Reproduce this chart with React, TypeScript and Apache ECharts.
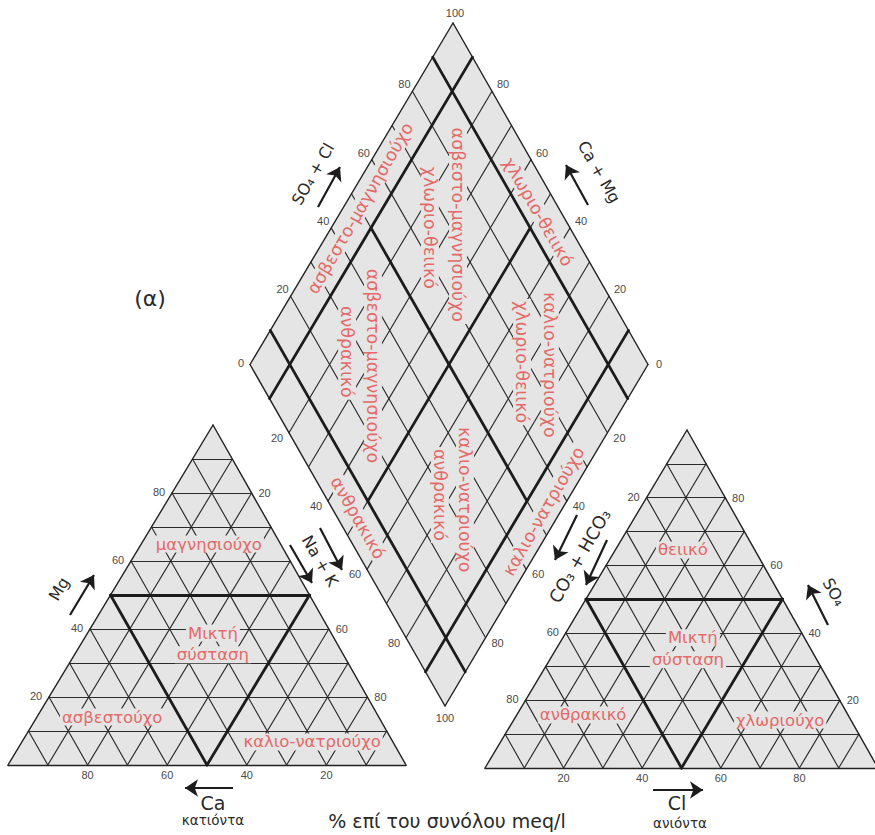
import React, { useEffect, useRef } from "react";
import * as echarts from "echarts";

// ---------------- data ----------------
const GRID_STEPS = [10, 20, 30, 40, 50, 60, 70, 80, 90];
const TRIANGLE_THICK = [50];
const DIAMOND_FULL_THICK = [10, 90];
const DIAMOND_INNER_THICK = [50];
const EDGE_TICKS = [20, 40, 60, 80];
const CATION_RIGHT_TICKS = [20, 60, 80];
const ANION_LEFT_TICKS = [20, 60, 80];

// cation triangle: a = Ca, b = Na+K, c = Mg
const cationLabels = [
  { text: "μαγνησιούχο", a: 18, b: 17, c: 65 },
  { text: "Μικτή", a: 29.7, b: 31.5, c: 38.8 },
  { text: "σύσταση", a: 32.8, b: 34.8, c: 32.4 },
  { text: "ασβεστούχο", a: 67, b: 18.9, c: 14.1 },
  { text: "καλιο-νατριούχο", a: 20.3, b: 72.9, c: 6.8 },
];
// anion triangle: a = CO3+HCO3, b = Cl, c = SO4
const anionLabels = [
  { text: "θειικό", a: 18.3, b: 17.2, c: 64.5 },
  { text: "Μικτή", a: 28.4, b: 33.1, c: 38.5 },
  { text: "σύσταση", a: 32.8, b: 35.2, c: 32 },
  { text: "ανθρακικό", a: 67.4, b: 16.9, c: 15.7 },
  { text: "χλωριούχο", a: 18, b: 67.8, c: 14.2 },
];
// diamond: s = SO4+Cl, c = Ca+Mg
const diamondColumnLabels = [
  { text: "ασβεστο-μαγνησιούχο", s: 72.3, c: 68.6 },
  { text: "χλωριο-θειικό", s: 64.8, c: 75.2 },
  { text: "ασβεστο-μαγνησιούχο", s: 30.7, c: 68.9 },
  { text: "ανθρακικό", s: 26.2, c: 77.5 },
  { text: "καλιο-νατριούχο", s: 75.3, c: 24.6 },
  { text: "χλωριο-θειικό", s: 68.7, c: 32.0 },
  { text: "καλιο-νατριούχο", s: 34.6, c: 25.8 },
  { text: "ανθρακικό", s: 29.0, c: 32.8 },
];
const diamondRisingLabels = [
  { text: "ασβεστο-μαγνησιούχο", s: 50.1, c: 95.7 },
  { text: "καλιο-νατριούχο", s: 52.7, c: 4.3 },
];
const diamondFallingLabels = [
  { text: "χλωριο-θειικό", s: 94.3, c: 50.4 },
  { text: "ανθρακικό", s: 5.1, c: 50.0 },
];

// ---------------- layout ----------------
const W = 875;
const H = 835;
type P = [number, number];
const CAT = { A: [8, 765] as P, B: [406, 765] as P, C: [213, 425] as P };
const AN = { A: [485, 768] as P, B: [878, 768] as P, C: [687, 430] as P };
const DIA = { B: [445, 706] as P, L: [250, 364.5] as P, R: [648, 364.5] as P };

function tern(T: { A: P; B: P; C: P }, a: number, b: number, c: number): P {
  const s = a + b + c;
  return [
    (T.A[0] * a + T.B[0] * b + T.C[0] * c) / s,
    (T.A[1] * a + T.B[1] * b + T.C[1] * c) / s,
  ];
}
function dia(s: number, c: number): P {
  return [
    DIA.B[0] + (s / 100) * (DIA.R[0] - DIA.B[0]) + (c / 100) * (DIA.L[0] - DIA.B[0]),
    DIA.B[1] + (s / 100) * (DIA.R[1] - DIA.B[1]) + (c / 100) * (DIA.L[1] - DIA.B[1]),
  ];
}
const add = (p: P, dx: number, dy: number): P => [p[0] + dx, p[1] + dy];

function triSegments(T: { A: P; B: P; C: P }, steps: number[]): P[][] {
  const segs: P[][] = [];
  for (const k of steps) {
    segs.push([tern(T, 100 - k, 0, k), tern(T, 0, 100 - k, k)]);
    segs.push([tern(T, k, 100 - k, 0), tern(T, k, 0, 100 - k)]);
    segs.push([tern(T, 100 - k, k, 0), tern(T, 0, k, 100 - k)]);
  }
  return segs;
}
function triEdges(T: { A: P; B: P; C: P }): P[][] {
  return [[T.A, T.B], [T.B, T.C], [T.C, T.A]];
}

const thinSegs: P[][] = [
  ...triSegments(CAT, GRID_STEPS),
  ...triSegments(AN, GRID_STEPS),
];
for (const k of GRID_STEPS) {
  thinSegs.push([dia(k, 0), dia(k, 100)]);
  thinSegs.push([dia(0, k), dia(100, k)]);
}
const edgeSegs: P[][] = [
  ...triEdges(CAT),
  ...triEdges(AN),
  [dia(0, 0), dia(100, 0)],
  [dia(100, 0), dia(100, 100)],
  [dia(100, 100), dia(0, 100)],
  [dia(0, 100), dia(0, 0)],
];
const thickSegs: P[][] = [
  ...triSegments(CAT, TRIANGLE_THICK),
  ...triSegments(AN, TRIANGLE_THICK),
];
for (const k of DIAMOND_FULL_THICK) {
  thickSegs.push([dia(k, 0), dia(k, 100)]);
  thickSegs.push([dia(0, k), dia(100, k)]);
}
for (const k of DIAMOND_INNER_THICK) {
  thickSegs.push([dia(k, DIAMOND_FULL_THICK[0]), dia(k, DIAMOND_FULL_THICK[1])]);
  thickSegs.push([dia(DIAMOND_FULL_THICK[0], k), dia(DIAMOND_FULL_THICK[1], k)]);
}

const polygons: P[][] = [
  [CAT.A, CAT.B, CAT.C],
  [AN.A, AN.B, AN.C],
  [dia(0, 0), dia(100, 0), dia(100, 100), dia(0, 100)],
];

const arrows: P[][] = [
  [[318, 207], [340, 167]],
  [[588, 205], [566, 165]],
  [[70, 615], [94, 575]],
  [[290, 545], [312, 583]],
  [[320, 528], [342, 570]],
  [[577, 515], [555, 560]],
  [[607, 540], [586, 585]],
  [[828, 625], [808, 585]],
  [[233, 788], [185, 788]],
  [[653, 790], [703, 790]],
];

// ---------------- texts ----------------
type T = { p: P; text: string; rot: number; size: number; color: string; family: string; bg?: string };
const RED = "#e46a68";
const FILL = "#e5e5e5";
const TICK = "#4a4a4a";
const DARK = "#2a2a2a";
const SANS = "DejaVu Sans, sans-serif";
const NUM = "Liberation Sans, Arial, sans-serif";
const texts: T[] = [];
const tick = (p: P, v: number | string) =>
  texts.push({ p, text: String(v), rot: 0, size: 11, color: TICK, family: NUM });

for (const v of EDGE_TICKS) {
  tick(add(dia(v, 100), -8, -7), v);
  tick(add(dia(100, v), 11, -7), v);
  tick(add(dia(0, 100 - v), -12, 5), v);
  tick(add(dia(100 - v, 0), 12, 5), v);
  tick(add(tern(CAT, 100 - v, 0, v), -13, -1), v);
  tick(add(tern(CAT, v, 100 - v, 0), 0, 10), v);
  tick(add(tern(AN, 0, 100 - v, v), 13, 0), v);
  tick(add(tern(AN, 100 - v, v, 0), 0, 10), v);
}
for (const v of CATION_RIGHT_TICKS) tick(add(tern(CAT, 0, v, 100 - v), 13, 0), v);
for (const v of ANION_LEFT_TICKS) tick(add(tern(AN, v, 0, 100 - v), -13, -1), v);
tick(add(dia(0, 100), -9, -2), 0);
tick(add(dia(100, 0), 11, -1), 0);
tick(add(dia(100, 100), 2, -10), 100);
tick(add(dia(0, 0), 0, 12), 100);

const red = (p: P, text: string, rot: number, size: number) =>
  texts.push({ p, text, rot, size, color: RED, family: SANS, bg: FILL });
for (const l of cationLabels) red(tern(CAT, l.a, l.b, l.c), l.text, 0, 16.5);
for (const l of anionLabels) red(tern(AN, l.a, l.b, l.c), l.text, 0, 16.5);
for (const l of diamondColumnLabels) red(dia(l.s, l.c), l.text, -Math.PI / 2, 17.5);
for (const l of diamondRisingLabels) red(dia(l.s, l.c), l.text, Math.PI / 3, 17.5);
for (const l of diamondFallingLabels) red(dia(l.s, l.c), l.text, -Math.PI / 3, 17.5);

const dark = (p: P, text: string, rot: number, size: number) =>
  texts.push({ p, text, rot, size, color: DARK, family: SANS });
dark([313, 174], "SO₄ + Cl", Math.PI / 3, 16);
dark([599, 172], "Ca + Mg", -Math.PI / 3, 16);
dark([59, 589], "Mg", Math.PI / 3, 16);
dark([320, 561], "Na + K", -Math.PI / 3, 16);
dark([580, 556], "CO₃ + HCO₃", Math.PI / 3, 17.5);
dark([834, 592], "SO₄", -Math.PI / 3, 16);
dark([213, 803], "Ca", 0, 19);
dark([213, 820], "κατιόντα", 0, 13.5);
dark([677, 803], "Cl", 0, 19);
dark([680, 823], "ανιόντα", 0, 13.5);
dark([447, 821], "% επί του συνόλου meq/l", 0, 19);
dark([150, 298], "(α)", 0, 22);

const lineSeries = (segs: P[][], width: number, color: string, z: number) => ({
  type: "lines",
  coordinateSystem: "cartesian2d",
  polyline: false,
  silent: true,
  z,
  symbol: ["none", "none"],
  lineStyle: { color, width, opacity: 1, cap: "round" },
  data: segs.map((s) => ({ coords: s })),
});

export default function App() {
  const ref = useRef<HTMLDivElement>(null);
  useEffect(() => {
    if (!ref.current) return;
    const chart = echarts.init(ref.current, null, { renderer: "svg" });
    chart.setOption({
      animation: false,
      backgroundColor: "#ffffff",
      grid: { left: 0, right: 0, top: 0, bottom: 0 },
      xAxis: { type: "value", min: 0, max: W, show: false },
      yAxis: { type: "value", min: 0, max: H, inverse: true, show: false },
      series: [
        {
          type: "custom",
          z: 1,
          silent: true,
          data: polygons.map((_, i) => [i]),
          renderItem: (_p: any, api: any) => {
            const poly = polygons[api.value(0)];
            return {
              type: "polygon",
              shape: { points: poly.map((pt) => api.coord(pt)) },
              style: { fill: FILL },
            };
          },
        },
        lineSeries(thinSegs, 1.15, "#2b2b2b", 2),
        lineSeries(edgeSegs, 1.4, "#222222", 3),
        lineSeries(thickSegs, 2.8, "#1c1c1c", 4),
        {
          type: "lines",
          coordinateSystem: "cartesian2d",
          silent: true,
          z: 6,
          symbol: ["none", "arrow"],
          symbolSize: 13,
          lineStyle: { color: "#1c1c1c", width: 2.2, opacity: 1 },
          itemStyle: { color: "#1c1c1c" },
          data: arrows.map((s) => ({ coords: s })),
        },
        {
          type: "custom",
          z: 8,
          silent: true,
          data: texts.map((t, i) => [t.p[0], t.p[1], i]),
          renderItem: (_p: any, api: any) => {
            const t = texts[api.value(2)];
            const c = api.coord([api.value(0), api.value(1)]);
            return {
              type: "text",
              x: c[0],
              y: c[1],
              rotation: t.rot,
              style: {
                text: t.text,
                fill: t.color,
                fontSize: t.size,
                fontFamily: t.family,
                align: "center",
                verticalAlign: "middle",
                backgroundColor: t.bg,
                padding: t.bg ? [0, 2] : 0,
              },
            };
          },
        },
      ],
    });
    return () => chart.dispose();
  }, []);
  return (
    <div
      ref={ref}
      style={{ position: "absolute", left: 0, top: 0, width: W, height: H, background: "#fff" }}
    />
  );
}
